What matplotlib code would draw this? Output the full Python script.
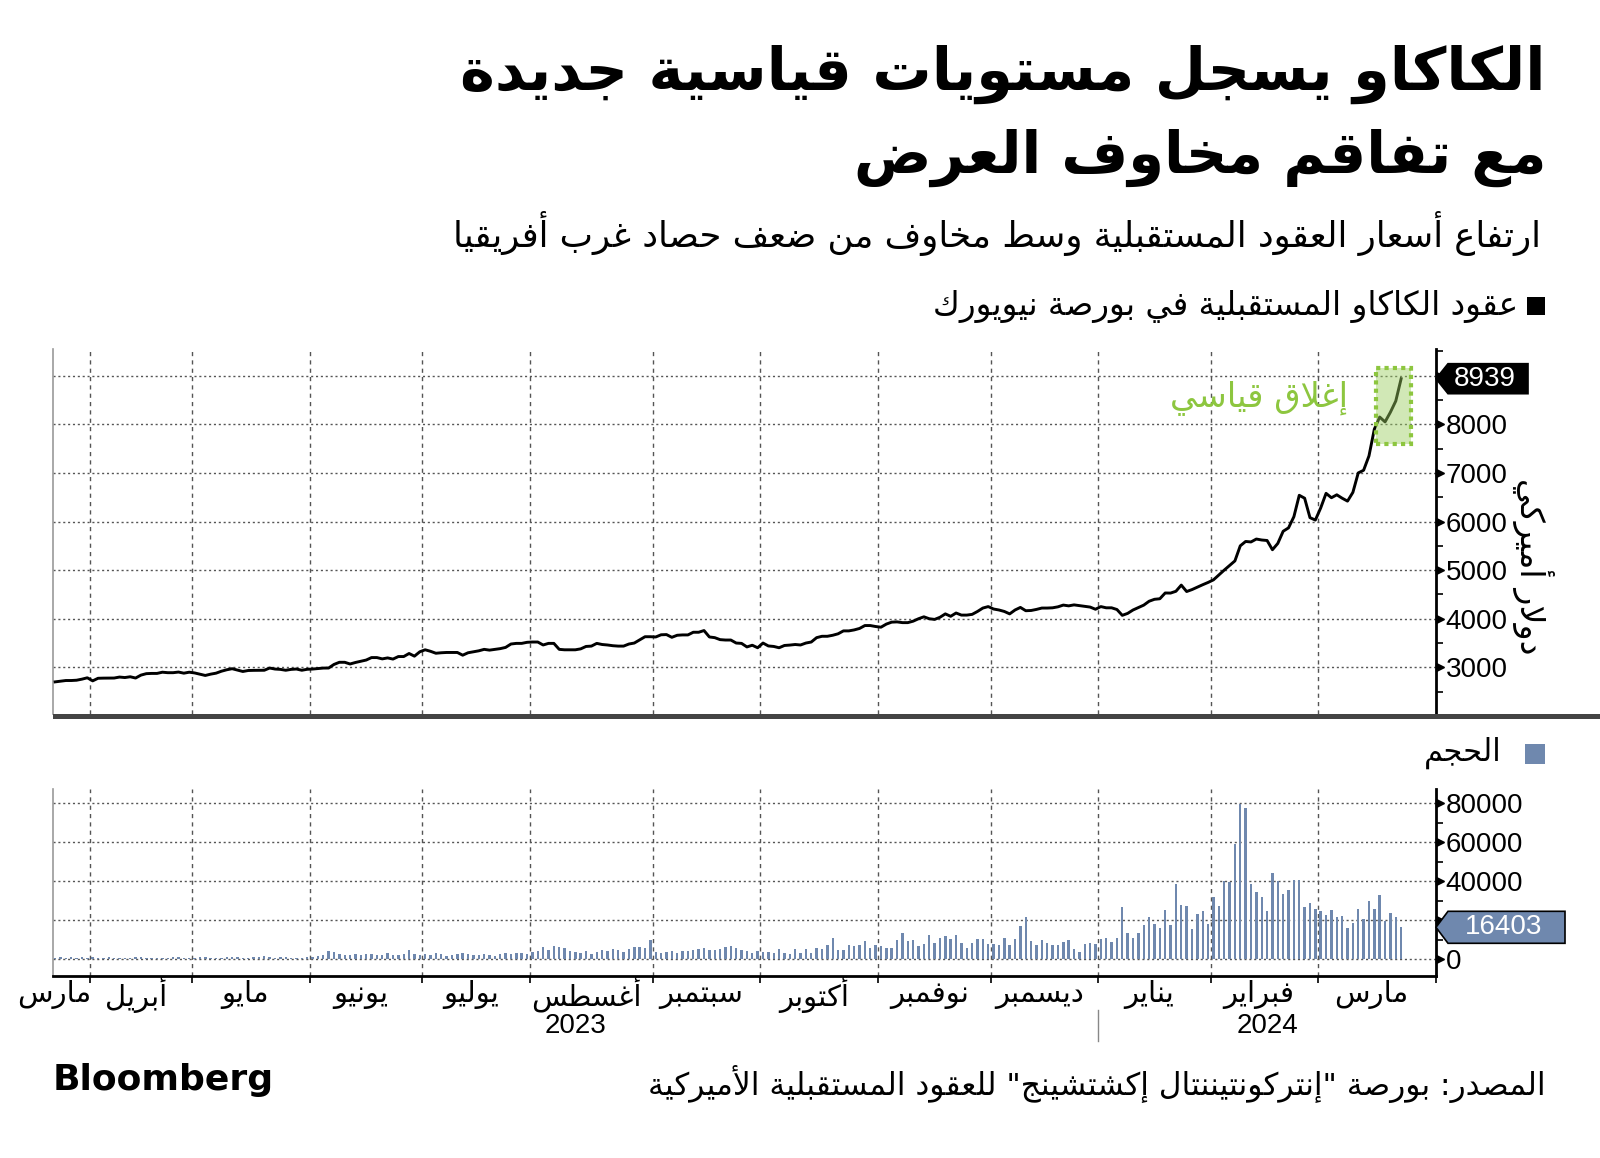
import numpy as np
import pandas as pd
import matplotlib
matplotlib.use('Agg')
import matplotlib.pyplot as plt
from matplotlib import transforms
from matplotlib.patches import Polygon, Rectangle

plt.rcParams['font.family'] = ['DejaVu Sans']
NUM_FONT = ['Liberation Sans', 'DejaVu Sans']

# ---------------- data ----------------
start_date = '2023-03-23'
end_date = '2024-03-22'
holidays = ['2023-04-07', '2023-05-29', '2023-06-19', '2023-07-04', '2023-09-04',
            '2023-11-23', '2023-12-25', '2024-01-01', '2024-01-15', '2024-02-19']

# ICE NY cocoa futures, USD per tonne, one value per trading day
price = [2701, 2715, 2729, 2729, 2735, 2757, 2785, 2722, 2775, 2778,
         2778, 2780, 2800, 2790, 2806, 2780, 2840, 2870, 2875, 2875,
         2900, 2890, 2890, 2903, 2880, 2900, 2885, 2860, 2833, 2860,
         2880, 2920, 2950, 2972, 2944, 2915, 2935, 2938, 2938, 2940,
         2986, 2965, 2958, 2940, 2958, 2965, 2940, 2960, 2965, 2975,
         2985, 2986, 3060, 3104, 3104, 3069, 3100, 3125, 3150, 3201,
         3201, 3174, 3194, 3170, 3222, 3222, 3285, 3230, 3320, 3361,
         3330, 3290, 3300, 3306, 3306, 3306, 3250, 3300, 3320, 3340,
         3370, 3354, 3370, 3385, 3410, 3480, 3493, 3493,
         3515, 3521, 3521, 3460, 3493, 3493, 3370, 3361, 3361, 3361,
         3380, 3430, 3437, 3493, 3470, 3460, 3445, 3437, 3437, 3480,
         3500, 3565, 3630, 3630, 3625, 3670, 3674, 3618, 3660, 3667,
         3667, 3722, 3722, 3757, 3625, 3611, 3570, 3562, 3562, 3500,
         3493, 3420, 3455, 3403, 3500, 3440, 3430, 3403, 3450, 3458,
         3470, 3460, 3500, 3521, 3611, 3639, 3639, 3660, 3690, 3750,
         3750, 3770, 3800, 3860, 3860, 3840, 3826, 3890, 3930, 3935,
         3920, 3920, 3950, 4000, 4040, 4000, 3986, 4030, 4100, 4050,
         4118,
         4075, 4075, 4090, 4150, 4220, 4250, 4200, 4180, 4150,
         4100, 4180, 4233, 4165, 4170, 4192, 4220, 4220, 4225, 4245,
         4281, 4265, 4285, 4270, 4255, 4240, 4195, 4250, 4225, 4225,
         4190, 4070, 4110, 4180, 4230, 4280, 4360, 4400, 4411, 4530,
         4528, 4565, 4692, 4560, 4600, 4650, 4700, 4747, 4800, 4900,
         5000, 5095, 5190, 5500, 5590, 5580, 5640, 5620, 5610, 5420,
         5550, 5800, 5870, 6100, 6540, 6480, 6080, 6030, 6280, 6580,
         6490, 6550, 6480, 6420, 6600, 7000, 7055, 7350, 7900, 8150,
         8050, 8250, 8480, 8939]

# contracts traded per day
volume = [900, 1100, 800, 1000, 700, 1200, 900,
          1000, 700, 800, 1100, 900, 600, 700, 800, 1000, 1100, 900, 700, 600, 800, 900, 1200, 1000, 800, 700,
          900, 1100, 1000, 800, 700, 900, 1000, 1200, 1100, 900, 800, 1000, 1300, 1700, 1200, 900, 1400, 1100,
          800, 700, 900, 1100,
          1200, 1500, 2000, 4100, 3900, 2900, 2400, 2300, 2500, 2200, 2600, 2900, 2100, 2400, 3100, 2300, 2000,
          2900, 4600, 2700, 2300,
          2800, 2400, 3000, 2600, 1800, 2200, 2900, 3300, 2500, 2000, 2300, 2700, 2100, 1900, 2500, 3200, 2800,
          3400, 3000, 2600,
          3500, 4400, 6300, 5000, 6800, 6500, 5900, 4000, 3600, 3000, 4200, 2800, 3500, 4800, 4500, 5200, 5000,
          3900, 5300, 6200, 6400, 5600, 9700,
          3800, 3300, 3600, 4200, 3100, 4400, 4000, 4800, 5200, 5700, 4900, 4600, 5500, 6100, 6700, 5800,
          4600, 4400, 3400, 4400, 3900, 3900, 3200, 5100, 3200, 2700, 5100, 3200, 5100, 3400, 5800, 5300,
          7200, 11100, 4600, 4600, 7200, 6800, 7200, 9200, 5800, 7200, 6700, 6000, 6000, 9700, 13500, 9200,
          9700, 6700, 7900, 12300, 8500, 11100, 11800, 10400, 12300, 8400, 6000, 8400, 10400, 10400, 7700, 7700,
          7200, 11100, 7200, 10400, 16900, 21500, 9200, 7200, 9700, 8400, 7200, 7200, 9100, 9700, 5100, 3900,
          7900, 8400, 7900, 10400, 11100, 9100, 11100, 26700, 13700, 10900, 13700, 17600, 21500, 18100, 16200, 25300,
          17600, 38600, 27900, 27200, 15600, 23400, 24800, 18100, 31800, 27200, 40000, 39800, 59000, 79500, 77400, 38600,
          34400, 31800, 24800, 44100, 40200, 33700, 35600, 40700, 40900, 26700, 29100, 26000, 24600, 22700, 25300, 21500,
          22000, 16200, 18600, 26000, 20900, 29900, 26000, 33000, 19700, 23900, 21500, 16403]

month_names = ['مارس', 'أبريل', 'مايو', 'يونيو', 'يوليو', 'أغسطس', 'سبتمبر',
               'أكتوبر', 'نوفمبر', 'ديسمبر', 'يناير', 'فبراير', 'مارس']
year_labels = ['2023', '2024']
price_ticks = [3000, 4000, 5000, 6000, 7000, 8000, 9000]
price_labels = ['3000', '4000', '5000', '6000', '7000', '8000', '']
volume_ticks = [0, 20000, 40000, 60000, 80000]
volume_labels = ['0', '', '40000', '60000', '80000']

title_1 = 'الكاكاو يسجل مستويات قياسية جديدة'
title_2 = 'مع تفاقم مخاوف العرض'
subtitle = 'ارتفاع أسعار العقود المستقبلية وسط مخاوف من ضعف حصاد غرب أفريقيا'
price_name = 'عقود الكاكاو المستقبلية في بورصة نيويورك'
volume_name = 'الحجم'
unit_label = 'دولار أميركي'
record_note = 'إغلاق قياسي'
source_note = 'المصدر: بورصة "إنتركونتيننتال إكشتشينج" للعقود المستقبلية الأميركية'

# ---------------- simple arabic shaping (matplotlib has none) ----------------
FOUR = {'ئ': 0xFE89, 'ب': 0xFE8F, 'ت': 0xFE95, 'ث': 0xFE99, 'ج': 0xFE9D,
        'ح': 0xFEA1, 'خ': 0xFEA5, 'س': 0xFEB1, 'ش': 0xFEB5, 'ص': 0xFEB9,
        'ض': 0xFEBD, 'ط': 0xFEC1, 'ظ': 0xFEC5, 'ع': 0xFEC9, 'غ': 0xFECD,
        'ف': 0xFED1, 'ق': 0xFED5, 'ك': 0xFED9, 'ل': 0xFEDD, 'م': 0xFEE1,
        'ن': 0xFEE5, 'ه': 0xFEE9, 'ي': 0xFEF1}
TWO = {'آ': 0xFE81, 'أ': 0xFE83, 'ؤ': 0xFE85, 'إ': 0xFE87, 'ا': 0xFE8D,
       'ة': 0xFE93, 'د': 0xFEA9, 'ذ': 0xFEAB, 'ر': 0xFEAD, 'ز': 0xFEAF,
       'و': 0xFEED, 'ى': 0xFEEF}
LAM_ALEF = {'آ': 0xFEF5, 'أ': 0xFEF7, 'إ': 0xFEF9, 'ا': 0xFEFB}


def ar(text):
    units = []
    i = 0
    while i < len(text):
        if text[i] == 'ل' and i + 1 < len(text) and text[i + 1] in LAM_ALEF:
            units.append(('LA', text[i + 1]))
            i += 2
        else:
            units.append((text[i], None))
            i += 1
    out = []
    for k, (c, alef) in enumerate(units):
        prev_joins = k > 0 and units[k - 1][0] in FOUR
        nxt = units[k + 1][0] if k + 1 < len(units) else ''
        next_joins = nxt in FOUR or nxt in TWO or nxt == 'LA'
        if c == 'LA':
            out.append(chr(LAM_ALEF[alef] + int(prev_joins)))
        elif c in FOUR:
            out.append(chr(FOUR[c] + int(prev_joins) + 2 * int(next_joins)))
        elif c in TWO:
            out.append(chr(TWO[c] + int(prev_joins)))
        else:
            out.append(c)
    return ''.join(reversed(out))


def fx(px):
    return px / 1600


def fy(py):
    return 1 - py / 1158


# ---------------- layout ----------------
dates = pd.bdate_range(start_date, end_date, freq='C', holidays=holidays)
x = np.arange(len(dates))
xlim = (-0.4, 257.5)

months = dates.to_period('M')
month_starts = np.flatnonzero(np.r_[True, months[1:] != months[:-1]])
bounds = month_starts[1:] - 0.5
edges = np.r_[xlim[0], bounds, xlim[1]]
centers = (edges[:-1] + edges[1:]) / 2
jan = bounds[months[month_starts[1:]].month == 1][0]

fig = plt.figure(figsize=(16, 11.58), dpi=100)
ax = fig.add_axes([fx(53), fy(714), fx(1436) - fx(53), fy(349) - fy(714)])
axv = fig.add_axes([fx(53), fy(976), fx(1436) - fx(53), fy(789) - fy(976)])

grid_col = '#555555'
for a in (ax, axv):
    a.set_xlim(*xlim)
    for b in bounds:
        a.axvline(b, color=grid_col, lw=1, ls=(0, (3, 3)), zorder=1)
    a.spines['top'].set_visible(False)
    a.spines['left'].set_color('#999999')
    a.spines['left'].set_linewidth(1.2)
    a.spines['right'].set_color('black')
    a.spines['right'].set_linewidth(2)
    a.yaxis.tick_right()
    a.tick_params(axis='y', which='major', length=0, pad=7)
    a.tick_params(axis='y', which='minor', length=5, width=1.2, color='black')

# price panel
ax.plot(x, price, color='black', lw=2.1, zorder=3)
ax.set_ylim(2040, 9550)
for v in price_ticks:
    ax.axhline(v, color=grid_col, lw=1, ls=(0, (1.5, 2)), zorder=1)
ax.set_yticks(price_ticks)
ax.set_yticklabels(price_labels, family=NUM_FONT, fontsize=20)
ax.set_yticks(np.arange(2500, 9600, 1000), minor=True)
ax.set_xticks([])
ax.spines['bottom'].set_visible(False)
tick_tr = transforms.offset_copy(ax.get_yaxis_transform(), fig, x=4, units='dots')
ax.plot([1] * len(price_ticks), price_ticks, ls='none', marker='>', ms=6,
        color='black', transform=tick_tr, clip_on=False, zorder=4)

# record close box
ax.add_patch(Rectangle((246.3, 7590), 6.5, 1575, facecolor='#9ACD5F', alpha=0.45,
                       edgecolor='none', zorder=4))
ax.add_patch(Rectangle((246.3, 7590), 6.5, 1575, facecolor='none', edgecolor='#8DC63F',
                       ls=(0, (1, 1)), lw=3, zorder=4))
ax.text(241.1, 8560, ar(record_note), ha='right', va='center', color='#8DC63F', fontsize=24.5)

# volume panel
axv.bar(x, volume, width=0.45, color='#6F88AE', zorder=3)
axv.set_ylim(-8560, 87300)
for v in volume_ticks:
    axv.axhline(v, color=grid_col, lw=1, ls=(0, (1.5, 2)), zorder=1)
axv.set_yticks(volume_ticks)
axv.set_yticklabels(volume_labels, family=NUM_FONT, fontsize=20)
axv.set_yticks(np.arange(10000, 90000, 20000), minor=True)
vtick_tr = transforms.offset_copy(axv.get_yaxis_transform(), fig, x=4, units='dots')
axv.plot([1] * len(volume_ticks), volume_ticks, ls='none', marker='>', ms=6,
         color='black', transform=vtick_tr, clip_on=False, zorder=4)
axv.spines['bottom'].set_linewidth(2)
axv.set_xticks(list(bounds) + [xlim[1]])
axv.set_xticklabels([])
axv.tick_params(axis='x', length=5, width=1.2, direction='out')

# month and year labels (the cut-off first month sits against its boundary)
xt = axv.get_xaxis_transform()
for k, (c, name) in enumerate(zip(centers, month_names)):
    if k == 0:
        axv.text(bounds[0] + 0.3, -0.1, ar(name), transform=xt, ha='right', va='center', fontsize=21)
    else:
        axv.text(c - 1.0, -0.1, ar(name), transform=xt, ha='center', va='center', fontsize=21)
year_spans = [(xlim[0], jan), (jan, xlim[1])]
for (a0, a1), yl in zip(year_spans, year_labels):
    axv.text((a0 + a1) / 2, -0.265, yl, transform=xt, ha='center', va='center',
             family=NUM_FONT, fontsize=20)
axv.plot([jan, jan], [-0.18, -0.35], transform=xt, color='#888888', lw=1, clip_on=False)


# last value labels
def value_tag(a, value, text, face, edge, w, h):
    tr = fig.dpi_scale_trans + transforms.ScaledTranslation(1, value, a.get_yaxis_transform())
    pts = np.array([(0, 0), (12, h / 2), (w, h / 2), (w, -h / 2), (12, -h / 2)]) / 100
    a.add_patch(Polygon(pts, closed=True, facecolor=face, edgecolor=edge, lw=1.2,
                        transform=tr, clip_on=False, zorder=6))
    a.text((12 + w) / 200 - 0.03, 0, text, transform=tr, ha='center', va='center',
           color='white', family=NUM_FONT, fontsize=20, zorder=7)


value_tag(ax, price[-1], str(price[-1]), 'black', 'black', 92, 30)
value_tag(axv, volume[-1], str(volume[-1]), '#6F88AE', 'black', 129, 32)

# separator between panels
fig.patches.append(Rectangle((fx(53), fy(719)), 1 - fx(53), 5 / 1158, transform=fig.transFigure,
                             facecolor='#444444', edgecolor='none'))

# titles and legend
fig.text(fx(1546), fy(74), ar(title_1), ha='right', va='center', fontsize=42.5, fontweight='bold')
fig.text(fx(1546), fy(158), ar(title_2), ha='right', va='center', fontsize=41.5, fontweight='bold')
fig.text(fx(1541), fy(233), ar(subtitle), ha='right', va='center', fontsize=25.5)

fig.patches.append(Rectangle((fx(1527), fy(315)), fx(18), 18 / 1158, transform=fig.transFigure,
                             facecolor='black'))
fig.text(fx(1518), fy(306), ar(price_name), ha='right', va='center', fontsize=23.5)
fig.patches.append(Rectangle((fx(1525), fy(764)), fx(20), 20 / 1158, transform=fig.transFigure,
                             facecolor='#6F88AE'))
fig.text(fx(1502), fy(753), ar(volume_name), ha='right', va='center', fontsize=22)

fig.text(fx(1533), fy(566), ar(unit_label), rotation=270, ha='center', va='center', fontsize=24)

fig.text(fx(53), fy(1080), 'Bloomberg', ha='left', va='center', fontsize=26, fontweight='bold')
fig.text(fx(1546), fy(1084), ar(source_note), ha='right', va='center', fontsize=22.5)

fig.savefig('out.png', dpi=100)
